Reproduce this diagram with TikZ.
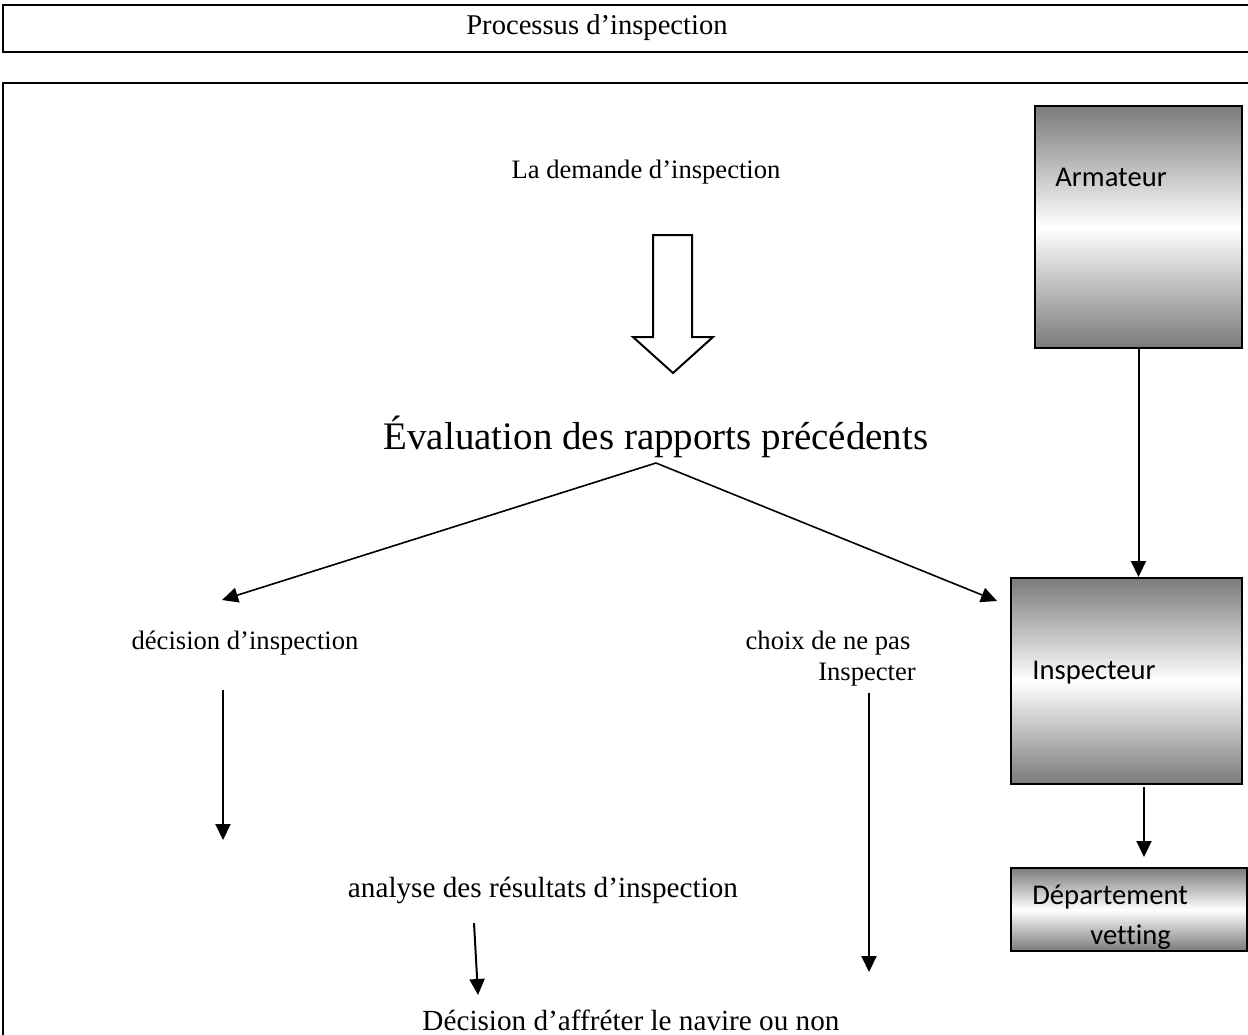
\documentclass[tikz,border=0pt]{standalone}
\usepackage{fontspec}
\setmainfont{Liberation Serif}
\newfontfamily\boxfont[Ligatures=NoCommon]{Carlito}
\usetikzlibrary{arrows.meta}
\begin{document}
\begin{tikzpicture}[x=0.5pt,y=-0.5pt,
  tip/.tip={Triangle[length=8pt,width=7.5pt]},
  arr/.style={line width=1pt,-tip},
  conn/.style={line width=0.8pt,-tip},
  lbl/.style={inner sep=0pt,font=\fontsize{13.3}{16}\selectfont},
  biglbl/.style={inner sep=0pt,font=\fontsize{19.5}{23}\selectfont},
  midlbl/.style={inner sep=0pt,font=\fontsize{14.6}{18}\selectfont},
  boxlbl/.style={inner sep=0pt,anchor=west,font=\boxfont\fontsize{14.3}{17}\selectfont},
  gbox/.style={draw,line width=1pt,anchor=north west,inner sep=0pt,
    top color=black!52,bottom color=black!52,middle color=white},
  frame/.style={draw,line width=1pt}]
\useasboundingbox (0,0) rectangle (1248,1034);
\fill[white] (0,0) rectangle (1248,1034);
% frames
\draw[frame] (3,5) rectangle (1254,52);
\node[inner sep=0pt,font=\fontsize{14.3}{17}\selectfont] (title) at (597,28) {Processus d’inspection};
\draw[frame] (3,83) rectangle (1254,1040);
% texts
\node[lbl] (demande) at (646,172) {La demande d’inspection};
\node[biglbl] (eval) at (656,437) {Évaluation des rapports précédents};
\node[lbl] (decision) at (245,643) {décision d’inspection};
\node[lbl] (choix) at (828,643) {choix de ne pas};
\node[lbl] (inspecter) at (867,675) {Inspecter};
\node[midlbl] (analyse) at (543,890) {analyse des résultats d’inspection};
\node[midlbl] (affreter) at (631,1020) {Décision d’affréter le navire ou non};
% hollow arrow
\draw[line width=1pt,fill=white] (653,235) -- (692,235) -- (692,337) -- (713,337)
  -- (673,373) -- (633,337) -- (653,337) -- cycle;
% boxes
\node[gbox,minimum width=103.5pt,minimum height=121pt] (arm) at (1034,105) {};
\node[gbox,minimum width=115.5pt,minimum height=103pt] (insp) at (1010,577) {};
\node[gbox,minimum width=118pt,minimum height=41.5pt] (dept) at (1010,867) {};
\node[boxlbl] (armt) at (1055,177) {Armateur};
\node[boxlbl] (inspt) at (1032,673) {Inspecteur};
\node[boxlbl] (deptt) at (1032,897) {Département};
\node[boxlbl] (vett) at (1090,937) {vetting};
% coordinates
\coordinate (evalsrc) at (656,463);
\coordinate (lefttip) at (222,600);
\coordinate (righttip) at (997,601);
\coordinate (dec1) at (223,690);
\coordinate (dec2) at (223,840);
\coordinate (ch1) at (869,693);
\coordinate (ch2) at (869,972);
\coordinate (an1) at (474,923);
\coordinate (an2) at (478,995);
\coordinate (ins1) at (1144,787);
\coordinate (ins2) at (1144,857);
% connectors
\draw[conn] (evalsrc) -- (lefttip);
\draw[conn] (evalsrc) -- (righttip);
\draw[arr] (arm.south) -- (arm.south |- insp.north);
\draw[arr] (ins1) -- (ins2);
\draw[arr] (dec1) -- (dec2);
\draw[arr] (ch1) -- (ch2);
\draw[arr] (an1) -- (an2);
\end{tikzpicture}
\end{document}
